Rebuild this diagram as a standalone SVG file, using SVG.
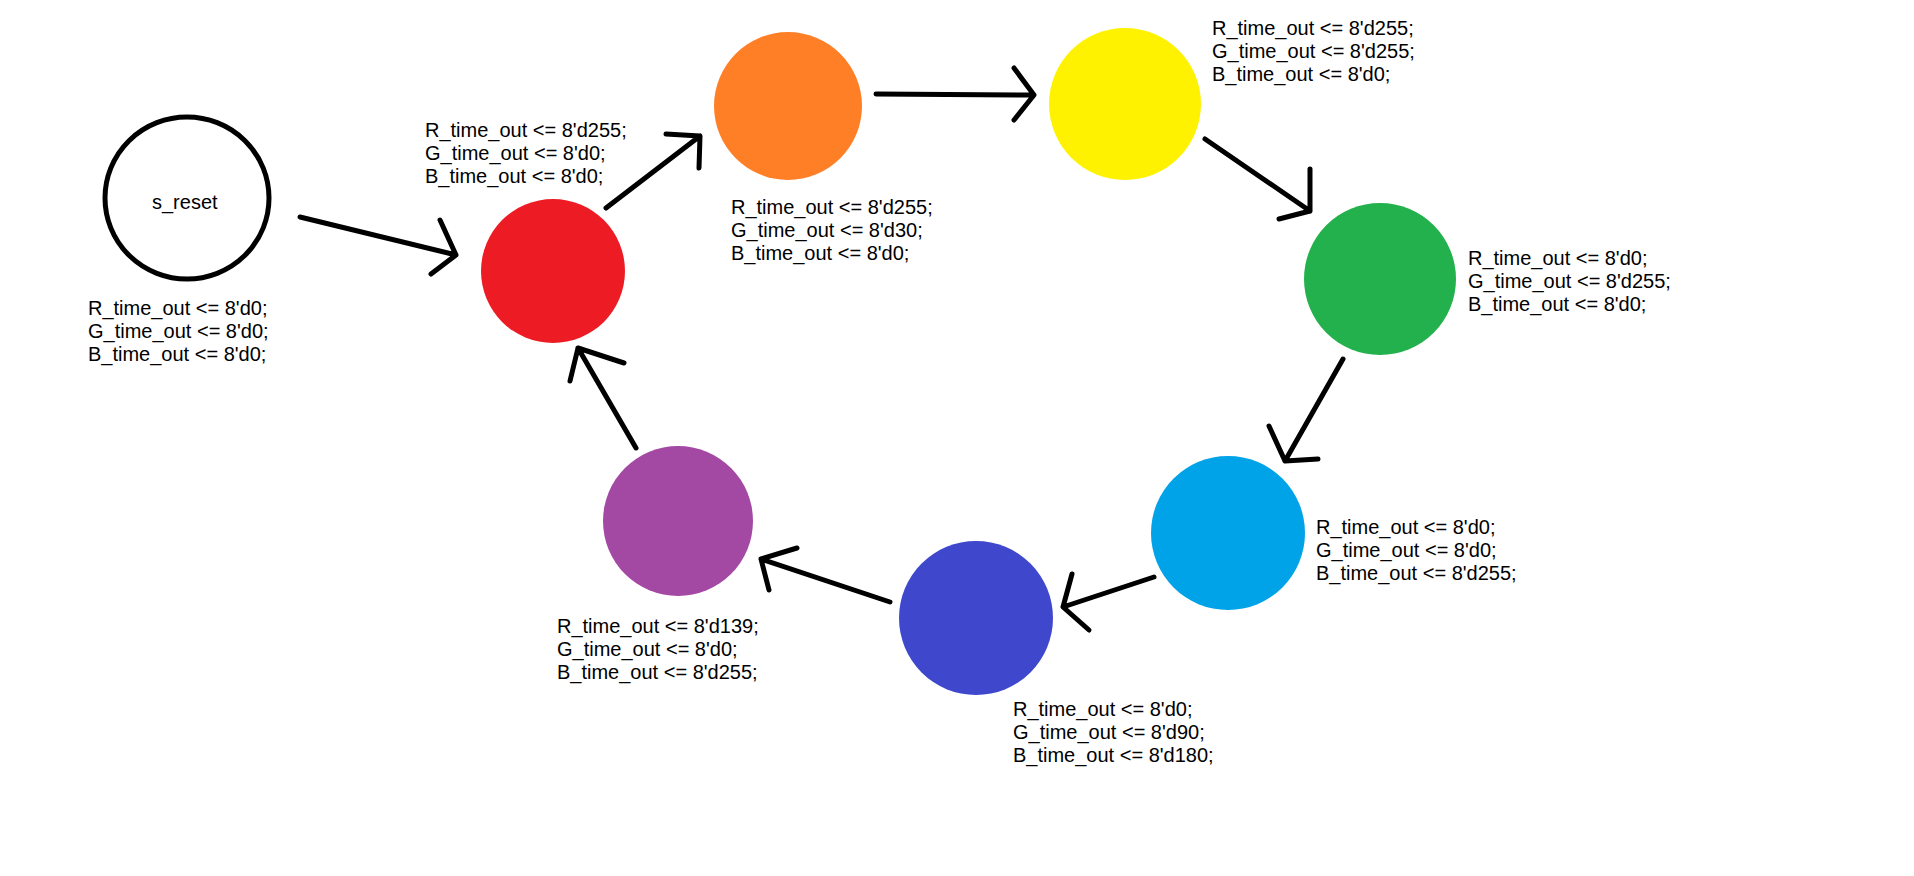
<svg xmlns="http://www.w3.org/2000/svg" width="1914" height="876" viewBox="0 0 1914 876">
<style>
text{font-family:"Liberation Sans",Arial,sans-serif;font-size:20px;fill:#000}
.c{stroke:#000;stroke-width:5;stroke-linecap:round;stroke-linejoin:round;fill:none}
</style>
<rect width="1914" height="876" fill="#fff"/>
<g id="s_reset">
<ellipse cx="187" cy="198" rx="82" ry="81" fill="#fff" stroke="#000" stroke-width="5"/>
<text x="152" y="209">s_reset</text>
<text x="88" y="315"><tspan x="88">R_time_out &lt;= 8'd0;</tspan><tspan x="88" dy="23">G_time_out &lt;= 8'd0;</tspan><tspan x="88" dy="23">B_time_out &lt;= 8'd0;</tspan></text>
</g>
<g id="red">
<circle cx="553" cy="271" r="72" fill="#ED1C24"/>
<text x="425" y="137"><tspan x="425">R_time_out &lt;= 8'd255;</tspan><tspan x="425" dy="23">G_time_out &lt;= 8'd0;</tspan><tspan x="425" dy="23">B_time_out &lt;= 8'd0;</tspan></text>
</g>
<g id="orange">
<circle cx="788" cy="106" r="74" fill="#FF7F27"/>
<text x="731" y="214"><tspan x="731">R_time_out &lt;= 8'd255;</tspan><tspan x="731" dy="23">G_time_out &lt;= 8'd30;</tspan><tspan x="731" dy="23">B_time_out &lt;= 8'd0;</tspan></text>
</g>
<g id="yellow">
<circle cx="1125" cy="104" r="76" fill="#FFF200"/>
<text x="1212" y="35"><tspan x="1212">R_time_out &lt;= 8'd255;</tspan><tspan x="1212" dy="23">G_time_out &lt;= 8'd255;</tspan><tspan x="1212" dy="23">B_time_out &lt;= 8'd0;</tspan></text>
</g>
<g id="green">
<circle cx="1380" cy="279" r="76" fill="#22B14C"/>
<text x="1468" y="265"><tspan x="1468">R_time_out &lt;= 8'd0;</tspan><tspan x="1468" dy="23">G_time_out &lt;= 8'd255;</tspan><tspan x="1468" dy="23">B_time_out &lt;= 8'd0;</tspan></text>
</g>
<g id="cyan">
<circle cx="1228" cy="533" r="77" fill="#00A2E8"/>
<text x="1316" y="534"><tspan x="1316">R_time_out &lt;= 8'd0;</tspan><tspan x="1316" dy="23">G_time_out &lt;= 8'd0;</tspan><tspan x="1316" dy="23">B_time_out &lt;= 8'd255;</tspan></text>
</g>
<g id="blue">
<circle cx="976" cy="618" r="77" fill="#3F48CC"/>
<text x="1013" y="716"><tspan x="1013">R_time_out &lt;= 8'd0;</tspan><tspan x="1013" dy="23">G_time_out &lt;= 8'd90;</tspan><tspan x="1013" dy="23">B_time_out &lt;= 8'd180;</tspan></text>
</g>
<g id="purple">
<circle cx="678" cy="521" r="75" fill="#A349A4"/>
<text x="557" y="633"><tspan x="557">R_time_out &lt;= 8'd139;</tspan><tspan x="557" dy="23">G_time_out &lt;= 8'd0;</tspan><tspan x="557" dy="23">B_time_out &lt;= 8'd255;</tspan></text>
</g>
<g id="connectors">
<path class="c" d="M300,217 L456,255 M440,220 L456,255 L431,274"/>
<path class="c" d="M606,208 L700,136 M666,134 L700,136 L699,168"/>
<path class="c" d="M876,94 L1034,95 M1014,68 L1034,95 L1014,120"/>
<path class="c" d="M1205,139 L1310,211 M1310,169 L1310,211 L1279,219"/>
<path class="c" d="M1343,359 L1285,461 M1269,426 L1285,461 L1318,459"/>
<path class="c" d="M1154,577 L1063,607 M1072,574 L1063,607 L1089,630"/>
<path class="c" d="M890,602 L761,559 M797,548 L761,559 L769,590"/>
<path class="c" d="M636,448 L578,348 M570,381 L578,348 L624,363"/>
</g>
</svg>
